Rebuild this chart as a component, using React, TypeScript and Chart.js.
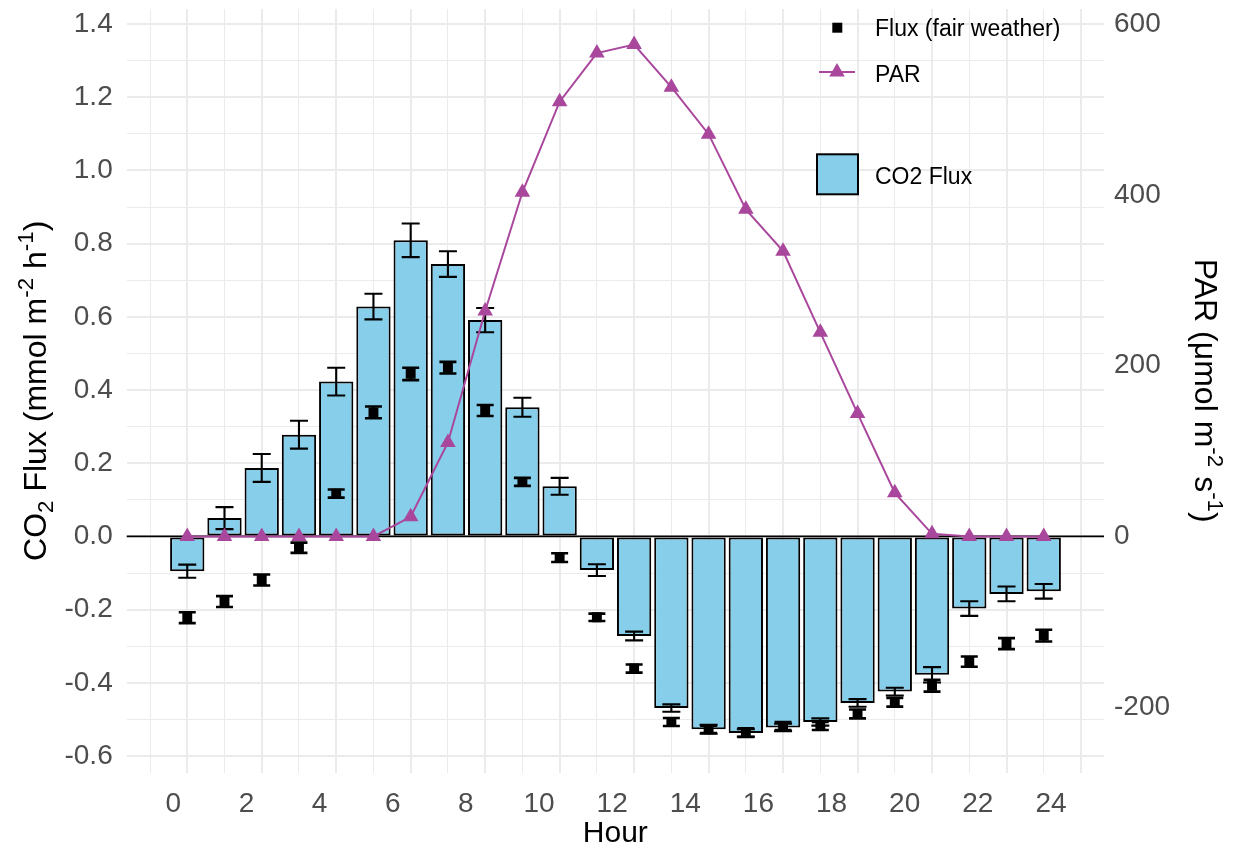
import React, { useEffect, useRef } from "react";
import { Chart, registerables } from "chart.js";

Chart.register(...registerables);

// ---------------- data ----------------
const hours = [0, 1, 2, 3, 4, 5, 6, 7, 8, 9, 10, 11, 12, 13, 14, 15, 16, 17, 18, 19, 20, 21, 22, 23];
const hourTickLabels = [0, 2, 4, 6, 8, 10, 12, 14, 16, 18, 20, 22, 24];

const co2Flux = [
  -0.095, 0.05, 0.187, 0.278, 0.423, 0.628, 0.809, 0.744, 0.591, 0.353, 0.137, -0.092,
  -0.272, -0.469, -0.527, -0.537, -0.522, -0.507, -0.455, -0.424, -0.378, -0.197, -0.157, -0.15,
];
const co2FluxSE = [
  0.018, 0.03, 0.038, 0.038, 0.038, 0.035, 0.046, 0.035, 0.033, 0.026, 0.023, 0.016,
  0.012, 0.01, 0.012, 0.01, 0.01, 0.01, 0.0105, 0.0105, 0.021, 0.02, 0.02, 0.02,
];
const fairFlux = [
  -0.222, -0.178, -0.119, -0.031, 0.117, 0.339, 0.444, 0.461, 0.344, 0.149, -0.058, -0.221,
  -0.361, -0.507, -0.527, -0.536, -0.518, -0.518, -0.485, -0.453, -0.408, -0.342, -0.293, -0.271,
];
const fairFluxSE = [
  0.015, 0.015, 0.015, 0.014, 0.011, 0.016, 0.017, 0.016, 0.015, 0.011, 0.012, 0.01,
  0.011, 0.011, 0.01, 0.012, 0.011, 0.011, 0.012, 0.012, 0.016, 0.014, 0.015, 0.016,
];
const par = [
  0, 0, 0, 0, 0, 0, 23, 110, 264, 403, 509, 566,
  576, 526, 471, 383, 334, 239, 144, 51, 3, 0, 0, 0,
];

const fluxMajorTicks = [-0.6, -0.4, -0.2, 0, 0.2, 0.4, 0.6, 0.8, 1.0, 1.2, 1.4];
const fluxMinorTicks = [-0.5, -0.3, -0.1, 0.1, 0.3, 0.5, 0.7, 0.9, 1.1, 1.3];
const parTickLabels = [-200, 0, 200, 400, 600];

// ---------------- styles / layout ----------------
const FONT = "'Liberation Sans', Arial, Helvetica, sans-serif";
const SKY = "#87CEEB";
const PURPLE = "#A9479C";
const GRID = "#EBEBEB";
const TICK_COLOR = "#4D4D4D";

const W = 1237;
const H = 847;
const PLOT_LEFT = 126.7;
const PLOT_RIGHT = 1104;
const PLOT_TOP = 8.3;
const PLOT_BOTTOM = 772.5;

const X_MIN = -1.626;
const X_MAX = 24.618;
const XL_MIN = -1.274;
const XL_MAX = 25.45;
const Y_MIN = -0.645;
const Y_MAX = 1.441;
const PAR_PER_FLUX = 600 / 1.4;
const TITLE_SIZE = 32;

type Part = { t: string; s: number; dy: number };

function drawRich(ctx: CanvasRenderingContext2D, parts: Part[], cx: number, cy: number, angle: number, size: number) {
  ctx.save();
  ctx.translate(cx, cy);
  ctx.rotate(angle);
  const widths = parts.map((p) => {
    ctx.font = `${(size * p.s).toFixed(1)}px ${FONT}`;
    return ctx.measureText(p.t).width;
  });
  const total = widths.reduce((a, b) => a + b, 0);
  let x = -total / 2;
  ctx.textAlign = "left";
  ctx.textBaseline = "alphabetic";
  ctx.fillStyle = "#000";
  const base = 0.358 * size;
  parts.forEach((p, i) => {
    ctx.font = `${(size * p.s).toFixed(1)}px ${FONT}`;
    ctx.fillText(p.t, x, base + p.dy);
    x += widths[i];
  });
  ctx.restore();
}

function drawErrorBars(chart: any, values: number[], se: number[], capW: number, lw: number) {
  const ctx: CanvasRenderingContext2D = chart.ctx;
  const xs = chart.scales.x;
  const ys = chart.scales.y;
  ctx.save();
  ctx.strokeStyle = "#000";
  ctx.lineWidth = lw;
  ctx.lineCap = "butt";
  values.forEach((v, i) => {
    const x = xs.getPixelForValue(hours[i]);
    const yl = ys.getPixelForValue(v - se[i]);
    const yh = ys.getPixelForValue(v + se[i]);
    ctx.beginPath();
    ctx.moveTo(x, yl);
    ctx.lineTo(x, yh);
    ctx.moveTo(x - capW / 2, yl);
    ctx.lineTo(x + capW / 2, yl);
    ctx.moveTo(x - capW / 2, yh);
    ctx.lineTo(x + capW / 2, yh);
    ctx.stroke();
  });
  ctx.restore();
}

const zeroPadding = (s: any) => {
  s.paddingTop = 0;
  s.paddingBottom = 0;
  s.paddingLeft = 0;
  s.paddingRight = 0;
};

const overlayPlugin = {
  id: "overlay",
  beforeDatasetsDraw(chart: any) {
    const { ctx, chartArea: a, scales } = chart;
    const y0 = scales.y.getPixelForValue(0);
    ctx.save();
    ctx.strokeStyle = "#000";
    ctx.lineWidth = 1.8;
    ctx.beginPath();
    ctx.moveTo(a.left, y0);
    ctx.lineTo(a.right, y0);
    ctx.stroke();
    ctx.restore();
  },
  afterDatasetDraw(chart: any, args: any) {
    if (args.index === 0) drawErrorBars(chart, co2Flux, co2FluxSE, 18, 2.1);
    if (args.index === 1) drawErrorBars(chart, fairFlux, fairFluxSE, 17, 2.6);
  },
  afterDraw(chart: any) {
    const ctx: CanvasRenderingContext2D = chart.ctx;
    const a = chart.chartArea;
    // x title
    drawRich(ctx, [{ t: "Hour", s: 1, dy: 0 }], (a.left + a.right) / 2, 831, 0, 30);
    // left title
    drawRich(
      ctx,
      [
        { t: "CO", s: 1, dy: 0 },
        { t: "2", s: 0.7, dy: 7 },
        { t: " Flux (mmol m", s: 1, dy: 0 },
        { t: "-2", s: 0.7, dy: -13 },
        { t: " h", s: 1, dy: 0 },
        { t: "-1", s: 0.7, dy: -13 },
        { t: ")", s: 1, dy: 0 },
      ],
      35,
      (a.top + a.bottom) / 2,
      -Math.PI / 2,
      TITLE_SIZE
    );
    // right title
    drawRich(
      ctx,
      [
        { t: "PAR (\u03bcmol m", s: 1, dy: 0 },
        { t: "-2", s: 0.7, dy: -13 },
        { t: " s", s: 1, dy: 0 },
        { t: "-1", s: 0.7, dy: -13 },
        { t: ")", s: 1, dy: 0 },
      ],
      1206,
      (a.top + a.bottom) / 2,
      Math.PI / 2,
      TITLE_SIZE
    );

    // legend
    ctx.save();
    ctx.fillStyle = "#000";
    ctx.fillRect(832.3, 22.7, 10, 10);
    ctx.strokeStyle = PURPLE;
    ctx.lineWidth = 2;
    ctx.beginPath();
    ctx.moveTo(819, 72);
    ctx.lineTo(855, 72);
    ctx.stroke();
    ctx.fillStyle = PURPLE;
    const r = 9;
    ctx.beginPath();
    ctx.moveTo(837, 72 - r);
    ctx.lineTo(837 + r * Math.sin(Math.PI / 3), 72 + r / 2);
    ctx.lineTo(837 - r * Math.sin(Math.PI / 3), 72 + r / 2);
    ctx.closePath();
    ctx.fill();
    ctx.fillStyle = SKY;
    ctx.fillRect(817, 154.3, 41, 40);
    ctx.strokeStyle = "#000";
    ctx.lineWidth = 2;
    ctx.strokeRect(817, 154.3, 41, 40);
    ctx.fillStyle = "#000";
    ctx.font = `23px ${FONT}`;
    ctx.textAlign = "left";
    ctx.textBaseline = "alphabetic";
    const off = 0.358 * 23;
    ctx.fillText("Flux (fair weather)", 875, 28 + off);
    ctx.fillText("PAR", 875, 73.7 + off);
    ctx.fillText("CO2 Flux", 875, 175.8 + off);
    ctx.restore();
  },
};

export default function App() {
  const ref = useRef<HTMLCanvasElement>(null);

  useEffect(() => {
    if (!ref.current) return;
    Chart.defaults.font.family = FONT;
    const chart = new Chart(ref.current, {
      type: "bar",
      data: {
        datasets: [
          {
            type: "bar",
            label: "CO2 Flux",
            data: hours.map((h, i) => ({ x: h, y: co2Flux[i] })),
            backgroundColor: SKY,
            borderColor: "#000",
            borderWidth: 2,
            borderSkipped: false,
            categoryPercentage: 1,
            barPercentage: 0.921,
            xAxisID: "x",
            yAxisID: "y",
            order: 3,
          } as any,
          {
            type: "line",
            label: "Flux (fair weather)",
            data: hours.map((h, i) => ({ x: h, y: fairFlux[i] })),
            showLine: false,
            pointStyle: "rect",
            pointRadius: 7,
            pointBorderWidth: 0,
            pointBackgroundColor: "#000",
            borderColor: "#000",
            xAxisID: "x",
            yAxisID: "y",
            order: 2,
          } as any,
          {
            type: "line",
            label: "PAR",
            data: hours.map((h, i) => ({ x: h, y: par[i] })),
            borderColor: PURPLE,
            borderWidth: 2,
            tension: 0,
            pointStyle: "triangle",
            pointRadius: 9,
            pointBorderWidth: 0,
            pointBackgroundColor: PURPLE,
            pointBorderColor: PURPLE,
            xAxisID: "x",
            yAxisID: "y2",
            order: 1,
          } as any,
        ],
      },
      options: {
        responsive: false,
        animation: false,
        devicePixelRatio: 1,
        layout: { padding: { top: PLOT_TOP, left: 0, right: 0, bottom: 0 } },
        plugins: { legend: { display: false }, tooltip: { enabled: false } },
        scales: {
          x: {
            type: "linear",
            position: "bottom",
            min: X_MIN,
            max: X_MAX,
            offset: false,
            ticks: { display: false, stepSize: 1, includeBounds: false, autoSkip: false },
            grid: {
              color: GRID,
              offset: false,
              drawTicks: false,
              lineWidth: (c: any) => (c.tick && Math.round(c.tick.value) % 2 === 0 ? 2 : 1),
            },
            border: { display: false },
            afterFit: (s: any) => {
              s.height = 0;
              zeroPadding(s);
            },
          },
          x2: {
            type: "linear",
            position: "bottom",
            min: XL_MIN,
            max: XL_MAX,
            offset: false,
            afterBuildTicks: (s: any) => {
              s.ticks = hourTickLabels.map((v) => ({ value: v }));
            },
            ticks: {
              color: TICK_COLOR,
              font: { family: FONT, size: 28 },
              padding: 15,
              autoSkip: false,
              maxRotation: 0,
              minRotation: 0,
              callback: (v: any) => String(v),
            },
            grid: { display: false, drawTicks: false, offset: false },
            border: { display: false },
            afterFit: (s: any) => {
              s.height = H - PLOT_BOTTOM;
              zeroPadding(s);
            },
          },
          y: {
            type: "linear",
            position: "left",
            min: Y_MIN,
            max: Y_MAX,
            afterBuildTicks: (s: any) => {
              s.ticks = [...fluxMajorTicks, ...fluxMinorTicks].sort((a, b) => a - b).map((v) => ({ value: v }));
            },
            ticks: {
              color: TICK_COLOR,
              font: { family: FONT, size: 28 },
              padding: 14,
              autoSkip: false,
              callback: (v: any) => (fluxMajorTicks.includes(v) ? Number(v).toFixed(1) : ""),
            },
            grid: {
              color: GRID,
              drawTicks: false,
              lineWidth: (c: any) => (c.tick && fluxMajorTicks.includes(c.tick.value) ? 2 : 1),
            },
            border: { display: false },
            afterFit: (s: any) => {
              s.width = PLOT_LEFT;
              zeroPadding(s);
            },
          },
          y2: {
            type: "linear",
            position: "right",
            min: Y_MIN * PAR_PER_FLUX,
            max: Y_MAX * PAR_PER_FLUX,
            afterBuildTicks: (s: any) => {
              s.ticks = parTickLabels.map((v) => ({ value: v }));
            },
            ticks: {
              color: TICK_COLOR,
              font: { family: FONT, size: 28 },
              padding: 10,
              autoSkip: false,
              callback: (v: any) => String(v),
            },
            grid: { display: false, drawTicks: false },
            border: { display: false },
            afterFit: (s: any) => {
              s.width = W - PLOT_RIGHT;
              zeroPadding(s);
            },
          },
        },
      } as any,
      plugins: [overlayPlugin],
    });
    return () => chart.destroy();
  }, []);

  return (
    <div style={{ position: "fixed", left: 0, top: 0, width: W, height: H, background: "#fff" }}>
      <canvas ref={ref} width={W} height={H} style={{ display: "block", width: W, height: H }} />
    </div>
  );
}
